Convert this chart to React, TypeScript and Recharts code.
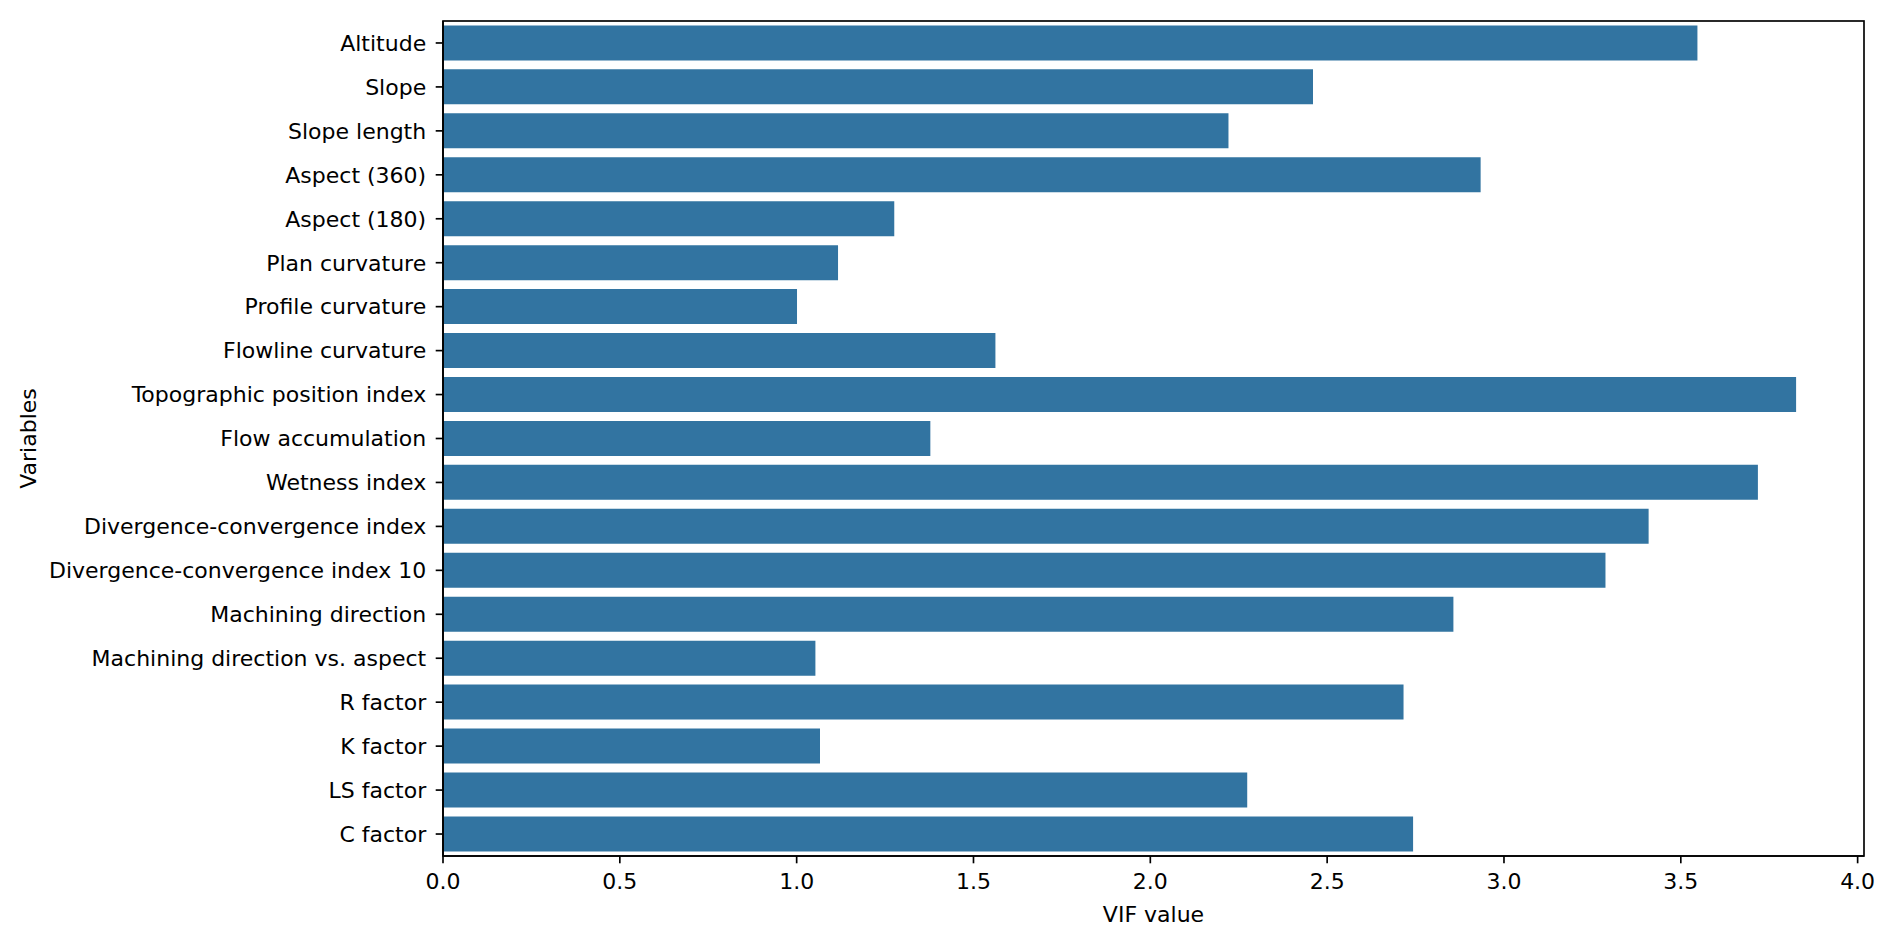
import { BarChart, Bar, XAxis, YAxis } from 'recharts'

const variables = [
  'Altitude',
  'Slope',
  'Slope length',
  'Aspect (360)',
  'Aspect (180)',
  'Plan curvature',
  'Profile curvature',
  'Flowline curvature',
  'Topographic position index',
  'Flow accumulation',
  'Wetness index',
  'Divergence-convergence index',
  'Divergence-convergence index 10',
  'Machining direction',
  'Machining direction vs. aspect',
  'R factor',
  'K factor',
  'LS factor',
  'C factor',
]

const vifValues = [
  3.547, 2.46, 2.221, 2.934, 1.276, 1.117, 1.001, 1.562, 3.826, 1.378,
  3.718, 3.409, 3.287, 2.857, 1.053, 2.716, 1.066, 2.274, 2.743,
]

const xTicks = [0, 0.5, 1, 1.5, 2, 2.5, 3, 3.5, 4]

const data = variables.map((name, i) => ({ name, vif: vifValues[i] }))

const FONT = '"DejaVu Sans", sans-serif'
const FS = 22
const tickStyle = { fill: '#000', fontSize: FS, fontFamily: FONT }
const lineStyle = { stroke: '#000', strokeWidth: 1.67 }

// plot box (matplotlib axes frame)
const W = 1892
const H = 939
const M = { top: 21, right: 28, bottom: 23, left: 0 }
const Y_AXIS_W = 443
const X_AXIS_H = 60

export default function App() {
  const boxX = M.left + Y_AXIS_W
  const boxY = M.top
  const boxW = W - M.right - boxX
  const boxH = H - M.bottom - X_AXIS_H - boxY
  return (
    <div style={{ position: 'absolute', left: 0, top: 0, width: W, height: H, background: '#fff' }}>
      <BarChart
        width={W}
        height={H}
        data={data}
        layout="vertical"
        barCategoryGap="10%"
        margin={M}
      >
        <XAxis
          type="number"
          domain={[0, 4.018]}
          ticks={xTicks}
          tickFormatter={(v: number) => v.toFixed(1)}
          allowDataOverflow
          height={X_AXIS_H}
          tick={tickStyle}
          tickSize={7.3}
          tickMargin={10}
          axisLine={lineStyle}
          tickLine={lineStyle}
          label={{ value: 'VIF value', position: 'insideBottom', offset: -6, fill: '#000', fontSize: FS, fontFamily: FONT }}
        />
        <YAxis
          type="category"
          dataKey="name"
          width={Y_AXIS_W}
          interval={0}
          tick={tickStyle}
          tickSize={7.3}
          tickMargin={9.5}
          axisLine={lineStyle}
          tickLine={lineStyle}
          label={{
            value: 'Variables',
            angle: -90,
            position: 'insideLeft',
            offset: 28.5,
            fill: '#000',
            fontSize: FS,
            fontFamily: FONT,
            style: { textAnchor: 'middle' },
          }}
        />
        <Bar dataKey="vif" fill="#3274a1" isAnimationActive={false} />
      </BarChart>
      <svg
        width={W}
        height={H}
        style={{ position: 'absolute', left: 0, top: 0, pointerEvents: 'none' }}
      >
        <rect x={boxX} y={boxY} width={boxW} height={boxH} fill="none" stroke="#000" strokeWidth={1.67} />
      </svg>
    </div>
  )
}
